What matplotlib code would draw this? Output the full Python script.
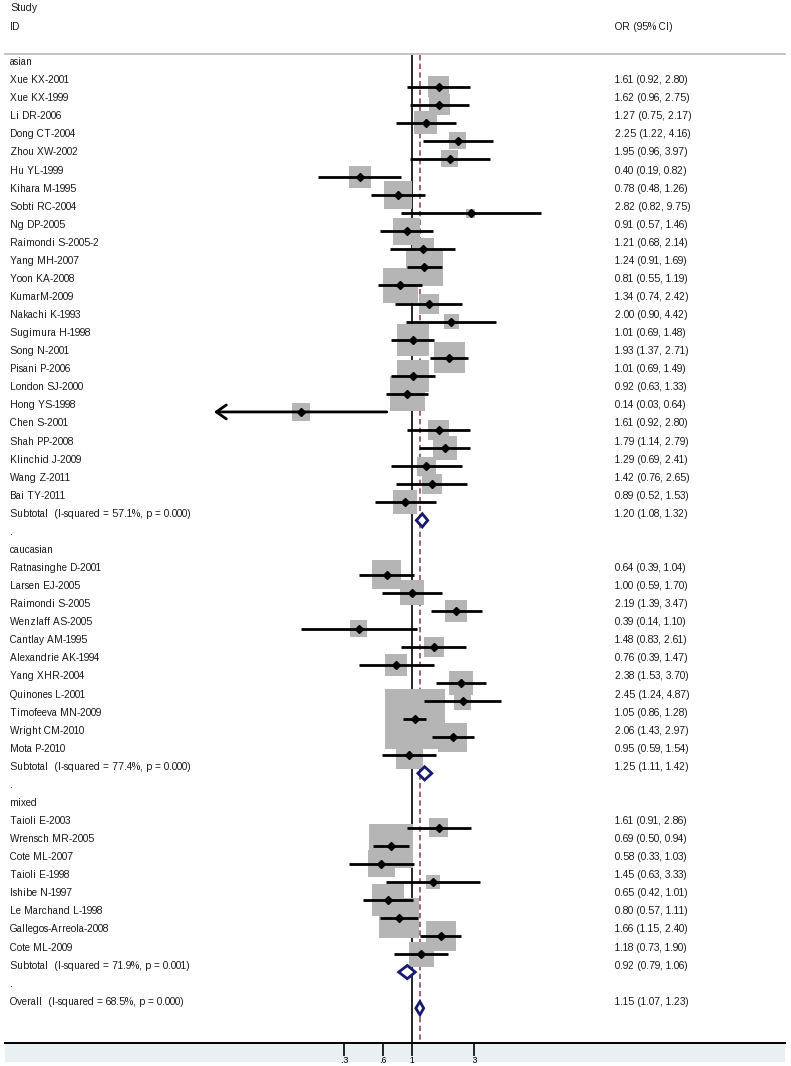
import matplotlib

matplotlib.use("Agg")

import matplotlib.pyplot as plt
import matplotlib.transforms as mtransforms
from matplotlib.patches import Polygon, Rectangle
import numpy as np

plt.rcParams["font.family"] = ["Liberation Sans", "DejaVu Sans"]
plt.rcParams["text.hinting_factor"] = 1

# ---- data -------------------------------------------------------------
ASIAN_IDS = [
    "Xue KX-2001", "Xue KX-1999", "Li DR-2006", "Dong CT-2004", "Zhou XW-2002",
    "Hu YL-1999", "Kihara M-1995", "Sobti RC-2004", "Ng DP-2005",
    "Raimondi S-2005-2", "Yang MH-2007", "Yoon KA-2008", "KumarM-2009",
    "Nakachi K-1993", "Sugimura H-1998", "Song N-2001", "Pisani P-2006",
    "London SJ-2000", "Hong YS-1998", "Chen S-2001", "Shah PP-2008",
    "Klinchid J-2009", "Wang Z-2011", "Bai TY-2011",
]
ASIAN_OR = [1.61, 1.62, 1.27, 2.25, 1.95, 0.40, 0.78, 2.82, 0.91, 1.21, 1.24, 0.81,
            1.34, 2.00, 1.01, 1.93, 1.01, 0.92, 0.14, 1.61, 1.79, 1.29, 1.42, 0.89]
ASIAN_LO = [0.92, 0.96, 0.75, 1.22, 0.96, 0.19, 0.48, 0.82, 0.57, 0.68, 0.91, 0.55,
            0.74, 0.90, 0.69, 1.37, 0.69, 0.63, 0.03, 0.92, 1.14, 0.69, 0.76, 0.52]
ASIAN_HI = [2.80, 2.75, 2.17, 4.16, 3.97, 0.82, 1.26, 9.75, 1.46, 2.14, 1.69, 1.19,
            2.42, 4.42, 1.48, 2.71, 1.49, 1.33, 0.64, 2.80, 2.79, 2.41, 2.65, 1.53]
ASIAN_W = [1.41, 1.41, 1.69, 0.93, 0.93, 1.55, 2.51, 0.26, 2.34, 1.55, 4.39, 3.92,
           1.28, 0.72, 3.28, 3.08, 3.28, 3.92, 1.04, 1.41, 1.85, 1.16, 1.28, 1.85]

CAUC_IDS = [
    "Ratnasinghe D-2001", "Larsen EJ-2005", "Raimondi S-2005", "Wenzlaff AS-2005",
    "Cantlay AM-1995", "Alexandrie AK-1994", "Yang XHR-2004", "Quinones L-2001",
    "Timofeeva MN-2009", "Wright CM-2010", "Mota P-2010",
]
CAUC_OR = [0.64, 1.00, 2.19, 0.39, 1.48, 0.76, 2.38, 2.45, 1.05, 2.06, 0.95]
CAUC_LO = [0.39, 0.59, 1.39, 0.14, 0.83, 0.39, 1.53, 1.24, 0.86, 1.43, 0.59]
CAUC_HI = [1.04, 1.70, 3.47, 1.10, 2.61, 1.47, 3.70, 4.87, 1.28, 2.97, 1.54]
CAUC_W = [2.69, 2.00, 1.55, 0.93, 1.28, 1.55, 1.85, 0.93, 11.53, 2.69, 2.34]

MIXED_IDS = [
    "Taioli E-2003", "Wrensch MR-2005", "Cote ML-2007", "Taioli E-1998",
    "Ishibe N-1997", "Le Marchand L-1998", "Gallegos-Arreola-2008", "Cote ML-2009",
]
MIXED_OR = [1.61, 0.69, 0.58, 1.45, 0.65, 0.80, 1.66, 1.18]
MIXED_LO = [0.91, 0.50, 0.33, 0.63, 0.42, 0.57, 1.15, 0.73]
MIXED_HI = [2.86, 0.94, 1.03, 3.33, 1.01, 1.11, 2.40, 1.90]
MIXED_W = [1.16, 6.20, 2.34, 0.63, 3.28, 5.13, 2.88, 2.00]

GROUP_NAMES = ["asian", "caucasian", "mixed"]
SUBTOTAL_LABELS = [
    "Subtotal  (I-squared = 57.1%, p = 0.000)",
    "Subtotal  (I-squared = 77.4%, p = 0.000)",
    "Subtotal  (I-squared = 71.9%, p = 0.001)",
]
SUBTOTAL_OR = [1.20, 1.25, 0.92]
SUBTOTAL_LO = [1.08, 1.11, 0.79]
SUBTOTAL_HI = [1.32, 1.42, 1.06]

OVERALL_LABEL = "Overall  (I-squared = 68.5%, p = 0.000)"
OVERALL_OR, OVERALL_LO, OVERALL_HI = 1.15, 1.07, 1.23

TICKS = [0.3, 0.6, 1, 3]
TICK_LABELS = [".3", ".6", "1", "3"]

# ---- layout (pixels of the 791x1066 canvas) ---------------------------
W, H = 791, 1066
ROW0_PX, ROW_PX = 68.6, 18.07     # marker line of first row, row pitch
ONE_PX, LN_PX = 412.0, 56.5       # x of OR=1, pixels per ln unit
AX_LEFT, AX_RIGHT, AX_BOTTOM = 5, 785, 1043
TEXT_SHIFT = 0.36                 # labels sit a bit above the marker line
BOX_SCALE = 312.11                # box area (px^2) per weight %
PX_PT = 0.72

GREY_BOX = "#b5b5b5"
NAVY = "#171a6e"
MAROON = "#8e4a5b"
BAND = "#e9f0f2"


def px_row(p):
    return (p - ROW0_PX) / ROW_PX


def px_x(p):
    return np.exp((p - ONE_PX) / LN_PX)


fig = plt.figure(figsize=(W / 100, H / 100), dpi=100, facecolor="white")
fig.patches.append(Rectangle((AX_LEFT / W, (H - 1062) / H), (AX_RIGHT - AX_LEFT) / W,
                             (1062 - AX_BOTTOM) / H, transform=fig.transFigure,
                             facecolor=BAND, edgecolor="none", zorder=-5))
ax = fig.add_axes([AX_LEFT / W, (H - AX_BOTTOM) / H, (AX_RIGHT - AX_LEFT) / W, AX_BOTTOM / H])
ax.set_facecolor("white")
ax.set_xscale("log")
ax.set_xlim(px_x(AX_LEFT), px_x(AX_RIGHT))
ax.set_ylim(px_row(AX_BOTTOM), px_row(0))

tr = mtransforms.blended_transform_factory(ax.transAxes, ax.transData)


def fx(p):
    return (p - AX_LEFT) / (AX_RIGHT - AX_LEFT)


TXT = dict(fontsize=6.9, color="#1a1a1a", va="center", transform=tr)
LEFT_X, RIGHT_X = fx(10), fx(615)

ax.text(LEFT_X, px_row(8), "Study", **TXT)
ax.text(LEFT_X, px_row(27), "ID", **TXT)
ax.text(RIGHT_X, px_row(27), "OR (95% CI)", **TXT)
ax.plot([0, 1], [px_row(54)] * 2, color="#c4c4c4", lw=1.4, transform=tr, clip_on=False)

top_row = px_row(55)
bottom_row = px_row(AX_BOTTOM)
ax.plot([1, 1], [top_row, bottom_row], color="black", lw=1.2, zorder=1)
ax.plot([OVERALL_OR] * 2, [top_row, bottom_row], color=MAROON, lw=1.2,
        dashes=(3.2, 2.0), zorder=1)


def ci_text(o, lo, hi):
    return f"{o:.2f} ({lo:.2f}, {hi:.2f})"


def draw_diamond(y, o, lo, hi):
    half = 0.365
    pts = [(lo, y), (o, y - half), (hi, y), (o, y + half)]
    ax.add_patch(Polygon(pts, closed=True, facecolor="white", edgecolor=NAVY,
                         lw=2.0, zorder=6, joinstyle="miter"))


groups = [
    (ASIAN_IDS, ASIAN_OR, ASIAN_LO, ASIAN_HI, ASIAN_W),
    (CAUC_IDS, CAUC_OR, CAUC_LO, CAUC_HI, CAUC_W),
    (MIXED_IDS, MIXED_OR, MIXED_LO, MIXED_HI, MIXED_W),
]

row = 0
for g, (ids, ors, los, his, ws) in enumerate(groups):
    ax.text(LEFT_X, row - TEXT_SHIFT, GROUP_NAMES[g], **TXT)
    row += 1
    rows = np.arange(row, row + len(ids))
    sides = np.sqrt(np.array(ws) * BOX_SCALE) * PX_PT
    ax.scatter(ors, rows, s=sides ** 2, marker="s", color=GREY_BOX, linewidths=0, zorder=2)
    for y, name, o, lo, hi in zip(rows, ids, ors, los, his):
        ax.text(LEFT_X, y - TEXT_SHIFT, name, **TXT)
        ax.text(RIGHT_X, y - TEXT_SHIFT, ci_text(o, lo, hi), **TXT)
        if lo < 0.05:
            ax.annotate("", xy=(lo, y), xytext=(hi, y),
                        arrowprops=dict(arrowstyle="->,head_length=0.36,head_width=0.25",
                                        lw=2.0, color="black", shrinkA=0, shrinkB=0,
                                        mutation_scale=20), zorder=3)
        else:
            ax.plot([lo, hi], [y, y], color="black", lw=2.0, solid_capstyle="butt", zorder=3)
    ax.plot(ors, rows, ls="none", marker="D", ms=4.2, color="black", zorder=4)
    row += len(ids)
    ax.text(LEFT_X, row - TEXT_SHIFT, SUBTOTAL_LABELS[g], **TXT)
    ax.text(RIGHT_X, row - TEXT_SHIFT,
            ci_text(SUBTOTAL_OR[g], SUBTOTAL_LO[g], SUBTOTAL_HI[g]), **TXT)
    draw_diamond(row, SUBTOTAL_OR[g], SUBTOTAL_LO[g], SUBTOTAL_HI[g])
    row += 1
    ax.text(LEFT_X, row - TEXT_SHIFT, ".", **TXT)
    row += 1

ax.text(LEFT_X, row - TEXT_SHIFT, OVERALL_LABEL, **TXT)
ax.text(RIGHT_X, row - TEXT_SHIFT, ci_text(OVERALL_OR, OVERALL_LO, OVERALL_HI), **TXT)
draw_diamond(row, OVERALL_OR, OVERALL_LO, OVERALL_HI)

for side in ["top", "left", "right"]:
    ax.spines[side].set_visible(False)
ax.spines["bottom"].set_linewidth(1.4)
ax.set_yticks([])
ax.set_xticks(TICKS)
ax.set_xticklabels(TICK_LABELS)
ax.xaxis.set_minor_locator(matplotlib.ticker.NullLocator())
ax.tick_params(axis="x", direction="out", length=9, width=1.2, pad=0.3,
               labelsize=6.3, colors="black")

fig.savefig("out.png", dpi=100)
